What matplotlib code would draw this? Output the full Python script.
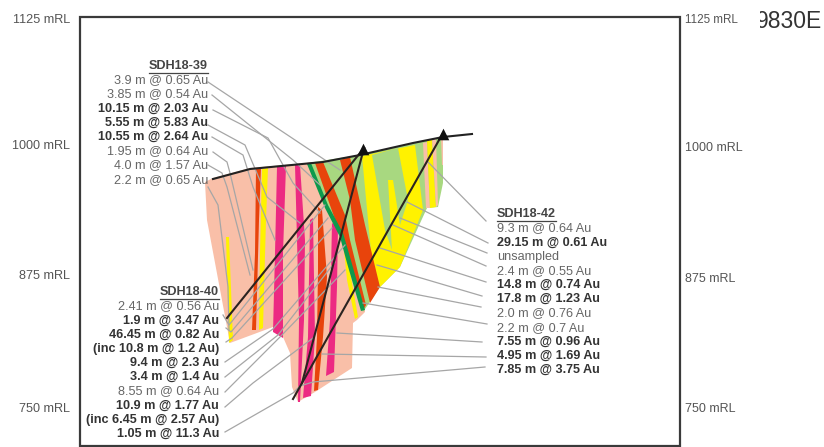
import matplotlib
matplotlib.use("Agg")
from matplotlib import pyplot as plt
from matplotlib.patches import Polygon, Rectangle

plt.rcParams["font.family"] = ["Liberation Sans", "DejaVu Sans"]

levels = ["1125 mRL", "1000 mRL", "875 mRL", "750 mRL"]
left_level_y = [20, 146, 276, 409]
right_level_y = [20, 148, 279, 409]

hole39 = ["3.9 m @ 0.65 Au", "3.85 m @ 0.54 Au", "10.15 m @ 2.03 Au", "5.55 m @ 5.83 Au",
          "10.55 m @ 2.64 Au", "1.95 m @ 0.64 Au", "4.0 m @ 1.57 Au", "2.2 m @ 0.65 Au"]
hole39_bold = [0, 0, 1, 1, 1, 0, 0, 0]
hole40 = ["2.41 m @ 0.56 Au", "1.9 m @ 3.47 Au", "46.45 m @ 0.82 Au", "(inc 10.8 m @ 1.2 Au)",
          "9.4 m @ 2.3 Au", "3.4 m @ 1.4 Au", "8.55 m @ 0.64 Au", "10.9 m @ 1.77 Au",
          "(inc 6.45 m @ 2.57 Au)", "1.05 m @ 11.3 Au"]
hole40_bold = [0, 1, 1, 1, 1, 1, 0, 1, 1, 1]
hole42 = ["9.3 m @ 0.64 Au", "29.15 m @ 0.61 Au", "unsampled", "2.4 m @ 0.55 Au",
          "14.8 m @ 0.74 Au", "17.8 m @ 1.23 Au", "2.0 m @ 0.76 Au", "2.2 m @ 0.7 Au",
          "7.55 m @ 0.96 Au", "4.95 m @ 1.69 Au", "7.85 m @ 3.75 Au"]
hole42_bold = [0, 1, 0, 0, 1, 1, 0, 0, 1, 1, 1]

peach = "#f9bfa8"
green = "#a8d880"
yellow = "#fff200"
orange = "#e8440c"
pink = "#ec2a82"
dark_green = "#0d9a4c"

shapes = [
    (peach, [(205, 182), (213, 178), (250, 168), (340, 160), (365, 155), (365, 312), (357, 320),
             (353, 323), (352, 368), (315, 392), (298, 402), (292, 387), (290, 353), (283, 337),
             (273, 327), (230, 343), (207, 220)]),
    (green, [(307, 163), (360, 155), (443, 137), (443, 183), (438, 207), (427, 208), (400, 267),
             (380, 287), (363, 312), (347, 253), (333, 220)]),
    (yellow, [(362, 156), (415, 145), (423, 210), (400, 267), (380, 287), (372, 262)]),
    (green, [(372, 155), (398, 148), (408, 200), (400, 225), (393, 180), (388, 180), (392, 250),
             (385, 230)]),
    (peach, [(423, 143), (427, 142), (430, 208), (426, 208)]),
    (yellow, [(427, 141), (432, 139), (436, 207), (430, 208)]),
    (peach, [(432, 139), (436, 138), (438, 205), (436, 207)]),
    (peach, [(441, 138), (443, 138), (443, 165), (442, 165)]),
    (yellow, [(226, 237), (229, 237), (233, 340), (229, 343)]),
    (orange, [(256, 169), (261, 168), (259, 220), (256, 330), (252, 330), (255, 253)]),
    (yellow, [(262, 169), (268, 168), (266, 220), (263, 328), (259, 330), (260, 253)]),
    (pink, [(277, 167), (286, 166), (283, 253), (283, 338), (273, 332), (275, 253)]),
    (pink, [(295, 165), (300, 165), (305, 240), (304, 320), (300, 402), (298, 402), (299, 320),
            (297, 240)]),
    (pink, [(310, 220), (313, 218), (315, 337), (311, 396), (303, 398), (308, 337)]),
    (orange, [(318, 207), (322, 210), (327, 277), (323, 337), (318, 390), (314, 391), (317, 337),
              (318, 270)]),
    (pink, [(332, 223), (338, 227), (337, 287), (334, 372), (326, 376), (330, 320)]),
    (yellow, [(343, 240), (348, 260), (358, 317), (355, 319), (347, 280)]),
    (orange, [(315, 163), (323, 162), (345, 215), (350, 240), (366, 305), (363, 310), (348, 255),
              (337, 225)]),
    (orange, [(340, 160), (350, 157), (365, 225), (380, 287), (370, 303), (355, 240), (350, 200)]),
    (dark_green, [(307, 164), (311, 163), (328, 205), (343, 233), (350, 257), (365, 310),
                  (361, 311), (347, 263), (340, 237), (325, 208)]),
]

leaders = [
    [(208, 82), (340, 170)],
    [(212, 95), (293, 160), (320, 185)],
    [(213, 110), (268, 138), (293, 183), (320, 213)],
    [(208, 125), (245, 145), (267, 197), (300, 223)],
    [(212, 137), (243, 155), (253, 187), (275, 240)],
    [(213, 152), (227, 162), (230, 173), (253, 270)],
    [(208, 165), (222, 173), (227, 187), (250, 275)],
    [(208, 187), (218, 205), (228, 287), (229, 330)],
    [(223, 315), (229, 325), (325, 205)],
    [(226, 328), (231, 332), (328, 218)],
    [(226, 342), (232, 338), (332, 228)],
    [(225, 362), (273, 329), (345, 245)],
    [(225, 377), (278, 335), (335, 262)],
    [(225, 392), (280, 337), (345, 270)],
    [(225, 407), (253, 383), (313, 338)],
    [(225, 432), (293, 393), (300, 386), (313, 382), (485, 367)],
    [(486, 221), (428, 162)],
    [(488, 243), (407, 202)],
    [(487, 253), (400, 218)],
    [(486, 266), (393, 225)],
    [(486, 282), (380, 248)],
    [(482, 296), (377, 265)],
    [(481, 307), (378, 287)],
    [(487, 324), (363, 303)],
    [(482, 342), (337, 333)],
    [(486, 357), (322, 354)],
]

surface = [(213, 179), (250, 169), (323, 162), (360, 155), (413, 143), (443, 137), (472, 134)]
drill_holes = [
    [(227, 318), (364, 148)],
    [(302, 383), (364, 148)],
    [(293, 399), (443, 133)],
]
collars = [(363, 149), (443, 134)]

fig = plt.figure(figsize=(8.24, 4.47), dpi=100)
ax = fig.add_axes([0, 0, 1, 1])
ax.set_xlim(0, 824)
ax.set_ylim(447, 0)
ax.axis("off")

ax.add_patch(Rectangle((80, 17), 600, 429, fill=False, ec="#3a3a3a", lw=1.6, zorder=6))

for colour, pts in shapes:
    ax.add_patch(Polygon(pts, closed=True, fc=colour, ec="none", zorder=2))

for line in leaders:
    ax.plot([p[0] for p in line], [p[1] for p in line], color="#a6a6a6", lw=0.9, zorder=3)

ax.plot([p[0] for p in surface], [p[1] for p in surface], color="#222222", lw=1.5, zorder=4)
for line in drill_holes:
    ax.plot([p[0] for p in line], [p[1] for p in line], color="#2b2320", lw=1.5, zorder=4)
ax.scatter([p[0] for p in collars], [p[1] for p in collars], marker="^", s=70, color="#111111",
           linewidths=0, zorder=5)

for name, y in zip(levels, left_level_y):
    ax.text(70, y, name, ha="right", va="center", fontsize=9.1, color="#555555")
for name, y in zip(levels, right_level_y):
    ax.text(685, y, name, ha="left", va="center", fontsize=9.0 if y > 20 else 8.4, color="#555555")


def block(title, rows, bold, x, y, ha):
    ax.text(x, y, title, ha=ha, va="center", fontsize=9.1, fontweight="bold", color="#444444")
    r = ax.figure.canvas.get_renderer()
    w = ax.texts[-1].get_window_extent(r).width
    x0 = x - w if ha == "right" else x
    ax.plot([x0, x0 + w], [y + 6.5, y + 6.5], color="#444444", lw=0.9, zorder=3)
    for i, (row, b) in enumerate(zip(rows, bold)):
        ax.text(x, y + 14.2 * (i + 1), row, ha=ha, va="center", fontsize=9.1,
                fontweight="bold" if b else "normal", color="#333333" if b else "#666666",
                zorder=7)


block("SDH18-39", hole39, hole39_bold, 208, 66, "right")
block("SDH18-40", hole40, hole40_bold, 219, 292, "right")
block("SDH18-42", hole42, hole42_bold, 497, 214, "left")

# the section name is cut off on its left in the source
ax.text(822, 22, "9830E", ha="right", va="center", fontsize=16.5, color="#333333", zorder=7)
ax.add_patch(Rectangle((745, 5), 15, 35, fc="white", ec="none", zorder=8))

fig.savefig("out.png", dpi=100)
